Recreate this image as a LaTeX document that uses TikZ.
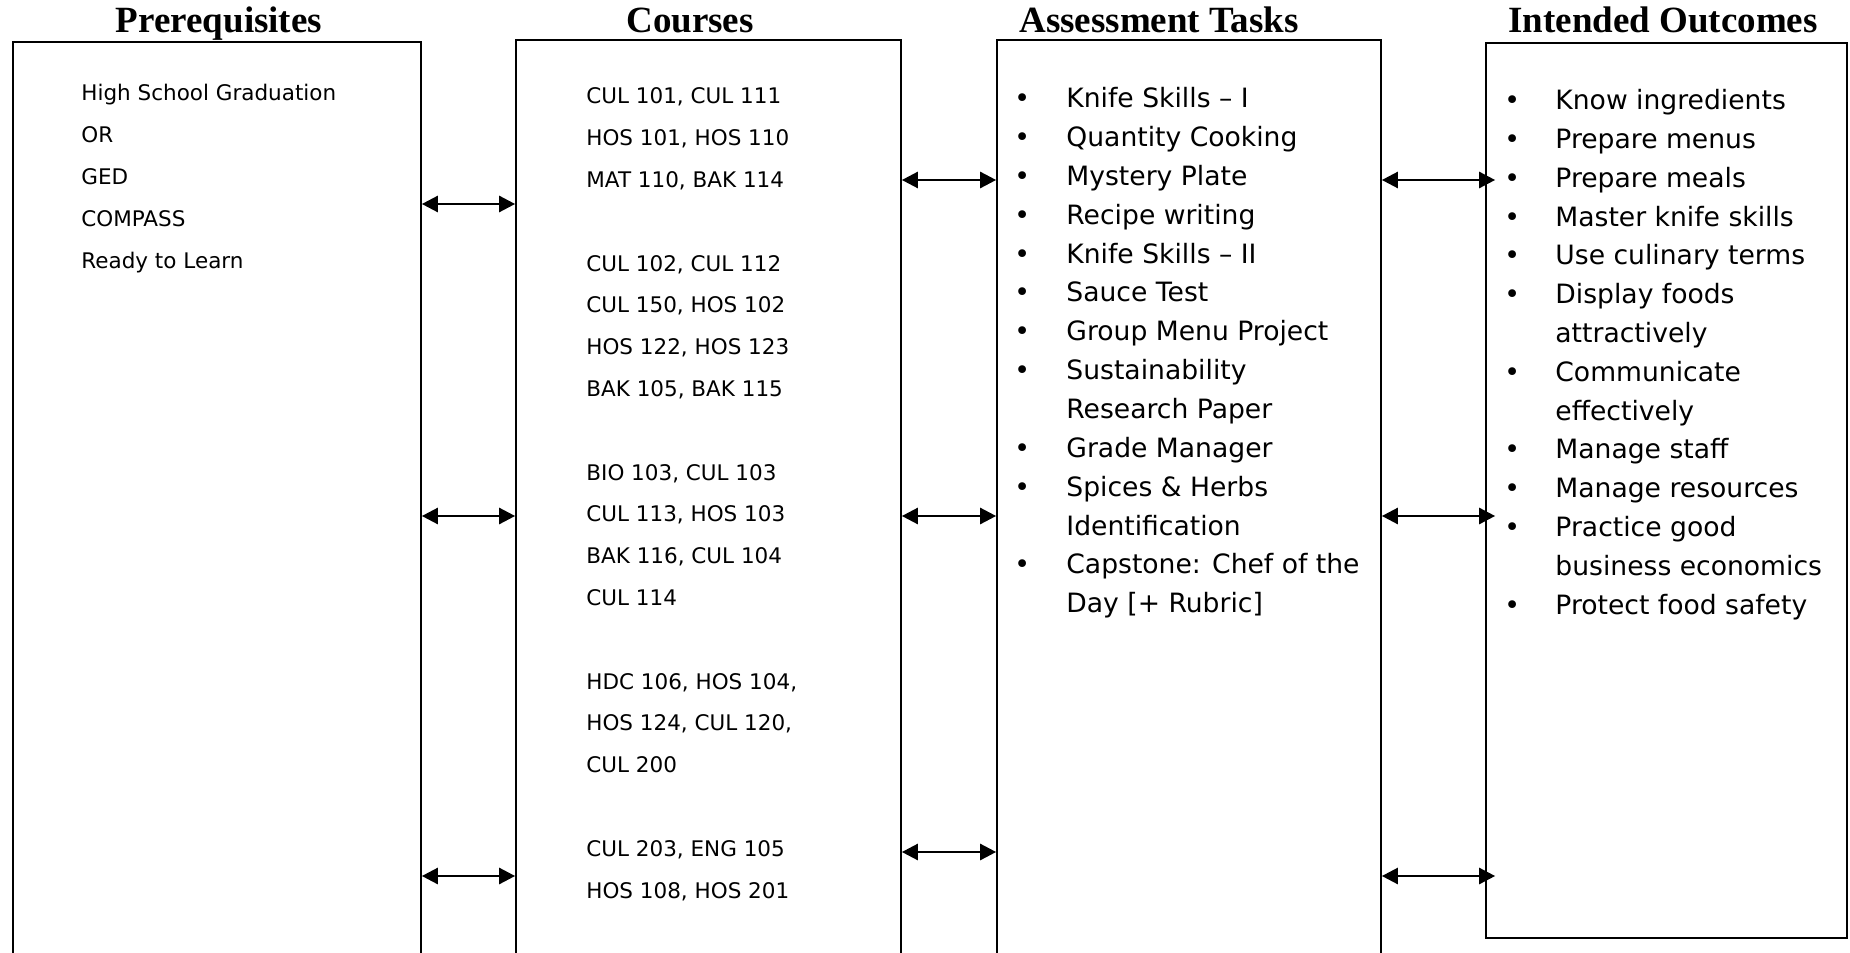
\documentclass[tikz,border=0pt]{standalone}
\usepackage{fontspec}
\setmainfont{DejaVu Sans}
\newfontfamily\headfont{Liberation Serif}
\usetikzlibrary{arrows.meta, fit}

\tikzset{
  box/.style={draw, line width=0.85pt, inner sep=0pt},
  head/.style={font=\headfont\bfseries\fontsize{18.5}{22}\selectfont, anchor=base, inner sep=0pt},
  small/.style={font=\fontsize{10.75}{13}\selectfont, anchor=base west, inner sep=0pt},
  item/.style={font=\fontsize{13.3}{16}\selectfont, anchor=base west, inner sep=0pt},
  link/.style={{Triangle[length=8pt,width=8pt]}-{Triangle[length=8pt,width=8pt]}, line width=1.3pt},
}

\begin{document}
\begin{tikzpicture}[x=0.5pt, y=-0.5pt]
\useasboundingbox (0,0) rectangle (1850,952);

% column titles
\node[head] (tpre) at (219,33) {Prerequisites};
\node[head] (tcrs) at (690,33) {Courses};
\node[head] (tass) at (1159,33) {Assessment Tasks};
\node[head] (tout) at (1663,33) {Intended Outcomes};

% the four boxes
\node[box, fit={(13,42) (421,980)}] (pre) {};
\node[box, fit={(516,40) (901,980)}] (crs) {};
\node[box, fit={(997,40) (1381,980)}] (ass) {};
\node[box, fit={(1486,43) (1847,938)}] (out) {};

% prerequisites
\foreach \t [count=\i from 0] in {High School Graduation, OR, GED, COMPASS, Ready to Learn}
  \node[small] (p\i) at (81, 93+41.8*\i+7.8) {\t};

% courses
\foreach \k/\t in {0/{CUL 101, CUL 111}, 1/{HOS 101, HOS 110}, 2/{MAT 110, BAK 114},
  4/{CUL 102, CUL 112}, 5/{CUL 150, HOS 102}, 6/{HOS 122, HOS 123}, 7/{BAK 105, BAK 115},
  9/{BIO 103, CUL 103}, 10/{CUL 113, HOS 103}, 11/{BAK 116, CUL 104}, 12/{CUL 114},
  14/{HDC 106, HOS 104,}, 15/{HOS 124, CUL 120,}, 16/{CUL 200},
  18/{CUL 203, ENG 105}, 19/{HOS 108, HOS 201}}
  \node[small] (c\k) at (586, 96+41.8*\k+7.8) {\t};

% assessment tasks
\foreach \b/\t [count=\i from 0] in {1/Knife Skills – I, 1/Quantity Cooking, 1/Mystery Plate,
  1/Recipe writing, 1/Knife Skills – II, 1/Sauce Test, 1/Group Menu Project,
  1/Sustainability, 0/Research Paper, 1/Grade Manager, 1/Spices \& Herbs,
  0/Identification, 1/{Capstone: Chef of the}, 0/{Day [+ Rubric]}}{
  \node[item] (a\i) at (1066, 98+38.85*\i+9.7) {\t};
  \ifnum\b=1 \node[item] (ab\i) at (1014, 98+38.85*\i+9.7) {•}; \fi
}

% intended outcomes
\foreach \b/\t [count=\i from 0] in {1/Know ingredients, 1/Prepare menus, 1/Prepare meals,
  1/Master knife skills, 1/Use culinary terms, 1/Display foods, 0/attractively,
  1/Communicate, 0/effectively, 1/Manage staff, 1/Manage resources,
  1/Practice good, 0/business economics, 1/Protect food safety}{
  \node[item] (o\i) at (1555, 100+38.8*\i+9.7) {\t};
  \ifnum\b=1 \node[item] (ob\i) at (1504, 100+38.8*\i+9.7) {•}; \fi
}

% arrow rows
\coordinate (r1) at (0,204);
\coordinate (s1) at (0,180);
\coordinate (r2) at (0,516);
\coordinate (r3) at (0,876);
\coordinate (s3) at (0,852);

\draw[link] (pre.east |- r1) -- (crs.west |- r1);
\draw[link] (pre.east |- r2) -- (crs.west |- r2);
\draw[link] (pre.east |- r3) -- (crs.west |- r3);

\draw[link] (crs.east |- s1) -- (ass.west |- s1);
\draw[link] (crs.east |- r2) -- (ass.west |- r2);
\draw[link] (crs.east |- s3) -- (ass.west |- s3);

\draw[link] (ass.east |- s1) -- ([xshift=5pt]out.west |- s1);
\draw[link] (ass.east |- r2) -- ([xshift=5pt]out.west |- r2);
\draw[link] (ass.east |- r3) -- ([xshift=5pt]out.west |- r3);

\end{tikzpicture}
\end{document}
